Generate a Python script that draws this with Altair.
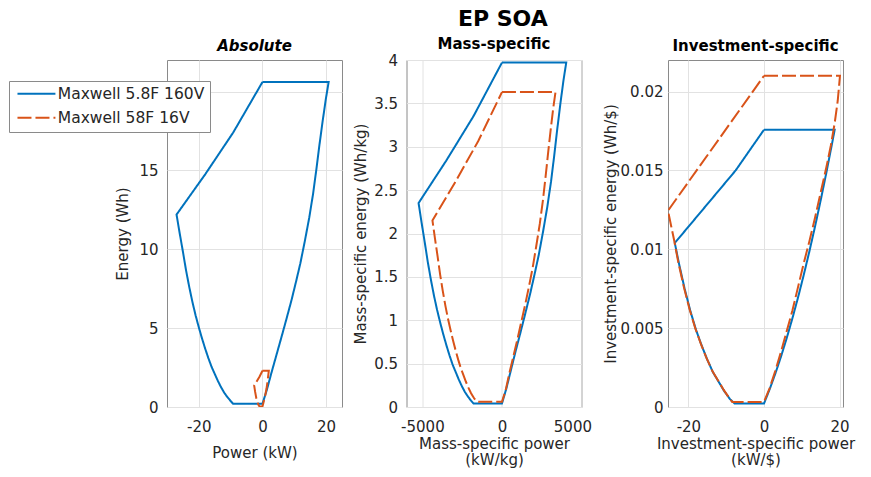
import altair as alt
import pandas as pd

SERIES = ["Maxwell 5.8F 160V", "Maxwell 58F 16V"]
COLORS = ["#0072BD", "#D95319"]
DASHES = [[1, 0], [14, 4]]
FONT = "DejaVu Sans"

# Each outline runs: top-left -> top-right -> right curve down -> bottom flat -> left curve up -> left edge up.

# ---------- Absolute (kW, Wh) ----------
abs_blue_p = [0, 20.8, 19.9, 18.9, 17.9, 16.9, 15.9, 14.7, 13.3, 11.9, 10.5, 9.1, 7.5, 6.0, 4.4, 2.8, 1.4, 0,
              -9.2, -10, -11, -12, -13, -14, -15, -16, -17, -18, -19, -20, -21, -22, -23, -24, -25, -26, -27,
              -18, -9.2, 0]
abs_blue_e = [20.6, 20.6, 19.5, 18.1, 16.6, 15.0, 13.5, 12.0, 10.5, 9.1, 7.9, 6.75, 5.55, 4.45, 3.3, 2.15, 1.1, 0.2,
              0.2, 0.38, 0.62, 0.9, 1.25, 1.65, 2.1, 2.55, 3.1, 3.7, 4.35, 5.05, 5.8, 6.65, 7.6, 8.65, 9.85, 11.0, 12.2,
              14.75, 17.4, 20.6]
abs_orng_p = [0, 2.0, 1.63, 1.28, 0.88, 0.58, 0.27, 0, -0.89, -1.16, -1.54, -1.93, -2.31, -2.6, -1.73, -0.89, 0]
abs_orng_e = [2.3, 2.3, 1.68, 1.17, 0.75, 0.5, 0.24, 0.03, 0.03, 0.1, 0.28, 0.56, 0.97, 1.36, 1.65, 1.94, 2.3]

# ---------- Mass-specific (kW/kg, Wh/kg) ----------
mass_blue_p = [0, 4040, 3863, 3668, 3474, 3280, 3086, 2853, 2582, 2310, 2038, 1766, 1456, 1165, 854, 543, 272, 0,
               -1786, -1941, -2135, -2329, -2523, -2717, -2912, -3106, -3300, -3494, -3688, -3882, -4076, -4270,
               -4464, -4658, -4853, -5047, -5241, -3494, -1786, 0]
mass_blue_e = [3.97, 3.97, 3.76, 3.49, 3.20, 2.89, 2.60, 2.31, 2.02, 1.75, 1.52, 1.30, 1.07, 0.86, 0.64, 0.41, 0.21, 0.04,
               0.04, 0.073, 0.119, 0.173, 0.241, 0.318, 0.405, 0.491, 0.597, 0.713, 0.838, 0.973, 1.118, 1.281,
               1.465, 1.667, 1.898, 2.12, 2.351, 2.842, 3.353, 3.97]
mass_orng_p = [0, 3365, 3220, 3058, 2896, 2734, 2573, 2378, 2152, 1925, 1699, 1472, 1214, 971, 712, 453, 227, 0,
               -1489, -1618, -1780, -1942, -2103, -2265, -2427, -2589, -2751, -2912, -3074, -3236, -3398, -3560,
               -3721, -3883, -4045, -4207, -4369, -2912, -1489, 0]
mass_orng_e = [3.63, 3.63, 3.44, 3.19, 2.92, 2.64, 2.38, 2.11, 1.85, 1.60, 1.39, 1.19, 0.98, 0.78, 0.58, 0.38, 0.19, 0.06,
               0.06, 0.067, 0.109, 0.159, 0.220, 0.291, 0.370, 0.449, 0.546, 0.652, 0.766, 0.890, 1.022, 1.172,
               1.339, 1.524, 1.736, 1.938, 2.150, 2.599, 3.066, 3.63]

# ---------- Investment-specific (kW/$, Wh/$) ----------
inv_blue_p = [0, 18.7, 18.0, 16.5, 15.0, 13.5, 12.0, 10.5, 9.0, 7.5, 6.0, 4.5, 3.0, 1.5, 0,
              -7.8, -9.0, -10.5, -12.0, -13.5, -15.0, -16.5, -18.0, -19.5, -21.0, -22.5, -23.6, -7.5, 0]
inv_blue_e = [0.01758, 0.01758, 0.0167, 0.01486, 0.01311, 0.01144, 0.00986, 0.00836, 0.00694, 0.00561, 0.00436,
              0.0032, 0.00212, 0.00113, 0.00022,
              0.00022, 0.0005, 0.0010, 0.0016, 0.0022, 0.0030, 0.0039, 0.0049, 0.0061, 0.0075, 0.0091, 0.0104,
              0.0150, 0.01758]
inv_orng_p = [0, 20.1, 19.5, 18.7, 17.7, 16.5, 15.0, 13.5, 12.0, 10.5, 9.0, 7.5, 6.0, 4.5, 3.0, 1.5, 0,
              -8.4, -9.3, -10.7, -12.2, -13.7, -15.2, -16.7, -18.2, -19.7, -21.2, -22.7, -23.8, -24.5, -25.4, 0]
inv_orng_e = [0.0210, 0.0210, 0.0194, 0.0180, 0.0166, 0.0152, 0.0136, 0.0120, 0.0105, 0.0091, 0.0076, 0.0061,
              0.0048, 0.0035, 0.0023, 0.0012, 0.00032,
              0.00032, 0.0006, 0.0011, 0.0017, 0.0023, 0.0031, 0.0040, 0.0050, 0.0062, 0.0076, 0.0092, 0.0106,
              0.0114, 0.01245, 0.0210]


def table(blue_p, blue_e, orng_p, orng_e):
    rows = []
    for s, (ps, es) in zip(SERIES, [(blue_p, blue_e), (orng_p, orng_e)]):
        for i, (p, e) in enumerate(zip(ps, es)):
            rows.append({"p": p, "e": e, "series": s, "i": i})
    return pd.DataFrame(rows)


legend = alt.Legend(
    orient="none", legendX=-158, legendY=21, title=None,
    symbolType="M-3,0H3", symbolSize=160, symbolStrokeWidth=2, symbolOffset=14.7,
    labelFont=FONT, labelFontSize=15.5, labelColor="#262626",
    strokeColor="#8a8a8a", fillColor="white", padding=5,
    labelOffset=13.6, rowPadding=7,
)


def panel(df, title, xtitle, ytitle, xdom, ydom, xvals, yvals,
          x_title_pad, y_title_pad, y_label_pad, title_offset=6, italic=False):
    tparams = dict(text=title, fontSize=15, fontWeight="bold", font=FONT,
                   color="#000000", anchor="middle", offset=title_offset, frame="group")
    if italic:
        tparams["fontStyle"] = "italic"
    return alt.Chart(df).mark_line(strokeWidth=2, clip=True).encode(
        x=alt.X("p:Q",
                scale=alt.Scale(domain=xdom, nice=False, zero=False),
                axis=alt.Axis(title=xtitle, values=xvals, labelExpr="datum.value + ''",
                              labelPadding=12, titlePadding=x_title_pad,
                              labelFlush=1, labelFlushOffset=10, titleLineHeight=16)),
        y=alt.Y("e:Q",
                scale=alt.Scale(domain=ydom, nice=False, zero=False),
                axis=alt.Axis(title=ytitle, values=yvals, labelExpr="datum.value + ''",
                              labelPadding=y_label_pad, titlePadding=y_title_pad)),
        color=alt.Color("series:N", scale=alt.Scale(domain=SERIES, range=COLORS), legend=legend),
        strokeDash=alt.StrokeDash("series:N", scale=alt.Scale(domain=SERIES, range=DASHES), legend=legend),
        order=alt.Order("i:Q"),
    ).properties(width=175, height=347, title=alt.TitleParams(**tparams))


p1 = panel(table(abs_blue_p, abs_blue_e, abs_orng_p, abs_orng_e),
           "Absolute", "Power (kW)", "Energy (Wh)",
           [-30, 25], [0, 22], [-20, 0, 20], [0, 5, 10, 15, 20],
           11, 8, 9, italic=True)
p2 = panel(table(mass_blue_p, mass_blue_e, mass_orng_p, mass_orng_e),
           "Mass-specific", ["Mass-specific power", "(kW/kg)"], "Mass-specific energy (Wh/kg)",
           [-6000, 5000], [0, 4], [-5000, 0, 5000], [0, 0.5, 1, 1.5, 2, 2.5, 3, 3.5, 4],
           2, 5, 9, title_offset=1)
p3 = panel(table(inv_blue_p, inv_blue_e, inv_orng_p, inv_orng_e),
           "Investment-specific", ["Investment-specific power", "(kW/$)"], "Investment-specific energy (Wh/$)",
           [-25.4, 20.9], [0, 0.022], [-20, 0, 20], [0, 0.005, 0.01, 0.015, 0.02],
           2, 2, 5)

chart = alt.hconcat(
    p1, alt.hconcat(p2, p3, spacing=9.5), spacing=9.5,
).properties(
    title=alt.TitleParams("EP SOA", fontSize=22, fontWeight="bold", font=FONT,
                          color="#000000", anchor="middle", offset=6, dx=71),
    padding={"left": 8, "top": 7, "right": 0, "bottom": 0},
    background="white",
).configure_view(
    stroke="#8a8a8a", strokeWidth=1,
).configure_axis(
    labelFont=FONT, titleFont=FONT, labelFontSize=15, titleFontSize=15,
    titleFontWeight="normal", labelColor="#262626", titleColor="#262626",
    grid=True, gridColor="#e2e2e2", domain=False, ticks=False, tickSize=0,
)

chart.save("out.html", embed_options={"renderer": "svg", "actions": False})
